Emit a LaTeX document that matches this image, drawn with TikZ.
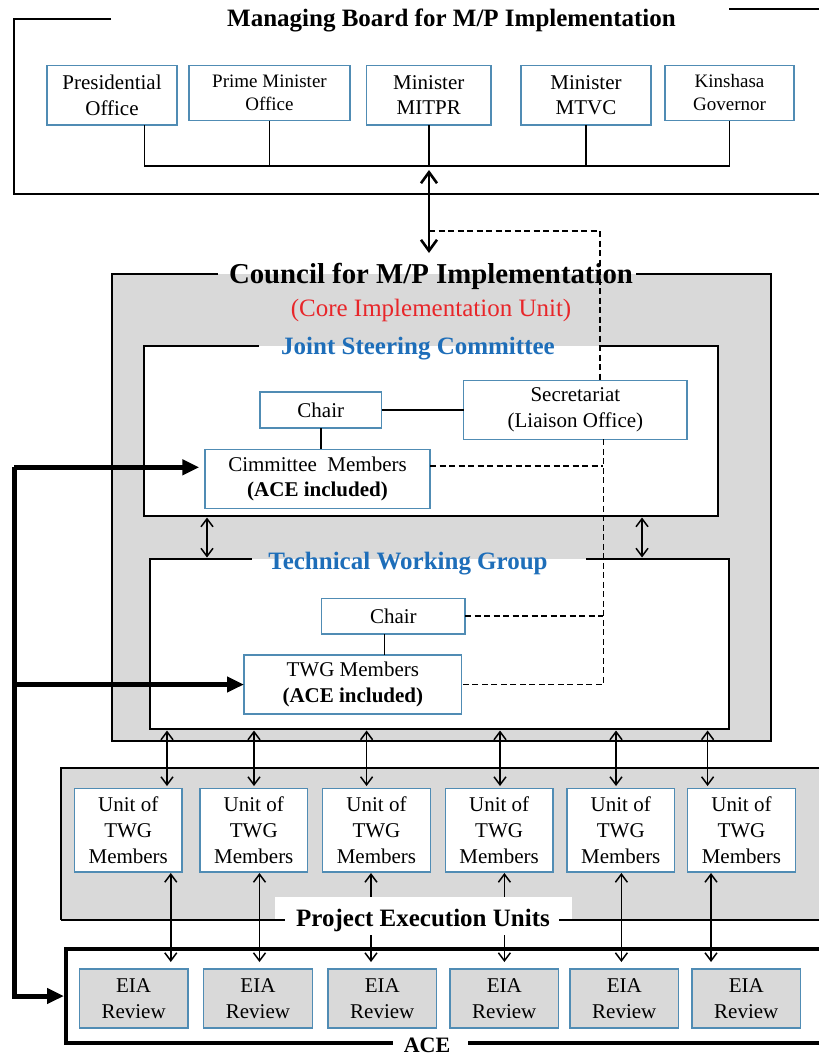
\documentclass[tikz,border=0pt]{standalone}
\usepackage{fontspec}
\setmainfont{Liberation Serif}
\usetikzlibrary{arrows.meta,calc}
\definecolor{boxblue}{RGB}{80,140,180}
\definecolor{bggray}{RGB}{217,217,217}
\definecolor{ttlblue}{RGB}{30,110,185}
\definecolor{redtxt}{RGB}{232,38,42}
\newcommand{\fsA}{\fontsize{21}{25.5}\selectfont}
\newcommand{\fsB}{\fontsize{19}{23}\selectfont}
\newcommand{\fsU}{\fontsize{21}{26.3}\selectfont}
\newcommand{\fsT}{\fontsize{25}{30}\selectfont\bfseries}
\begin{document}
\begin{tikzpicture}[x=1pt,y=-1pt,
  box/.style={draw=boxblue, line width=1.3pt, fill=white, inner sep=0pt, outer sep=0pt, align=center, anchor=north west},
  gbox/.style={box, fill=bggray},
  area/.style={draw=none, inner sep=0pt, outer sep=0pt, anchor=north west},
  fline/.style={line width=2pt, line join=miter},
  conn/.style={line width=1.5pt},
  dashline/.style={line width=1.8pt, dash pattern=on 6pt off 3.5pt},
  dblarrow/.style={line width=1.5pt, {Straight Barb[length=8pt,width=12pt]}-{Straight Barb[length=8pt,width=12pt]}},
  bigarrow/.style={line width=2.6pt, {Straight Barb[length=11pt,width=16pt]}-{Straight Barb[length=11pt,width=16pt]}},
  thickarr/.style={line width=5pt, -{Triangle[length=17pt,width=15pt]}}
]
\useasboundingbox (0,0) rectangle (819,1057);
\fill[white] (0,0) rectangle (819,1057);

% ---------------- Managing board ----------------
\draw[fline] (111,19) -- (14,19) -- (14,194) -- (819,194);
\draw[fline] (729,9) -- (819,9);
\node[anchor=base, font=\fsT] (mbt) at (451.5,27) {Managing Board for M/P Implementation};

\node[box, minimum width=130pt, minimum height=59.5pt, font=\fsA] (pres) at (47,65.5) {Presidential\\Office};
\node[box, minimum width=161pt, minimum height=55pt, font=\fsB] (pm) at (189,65.5) {Prime Minister\\Office};
\node[box, minimum width=124.4pt, minimum height=59.5pt, font=\fsA] (mitpr) at (366.6,65.5) {Minister\\MITPR};
\node[box, minimum width=130pt, minimum height=59.5pt, font=\fsA] (mtvc) at (521,65.5) {Minister\\MTVC};
\node[box, minimum width=129pt, minimum height=55pt, font=\fsB] (kin) at (665,65.5) {Kinshasa\\Governor};

\coordinate (bus) at (0,166);
\draw[conn] ([xshift=32.5pt]pres.south) -- ([xshift=32.5pt]pres.south |- bus) -| (kin.south);
\draw[conn] (pm.south) -- (pm.south |- bus);
\draw[conn] (mitpr.south) -- (mitpr.south |- bus);
\draw[conn] (mtvc.south) -- (mtvc.south |- bus);

% ---------------- Council ----------------
\node[area, fill=bggray, minimum width=659pt, minimum height=467pt] (council) at (112,274) {};
\node[area, fill=white, minimum width=574pt, minimum height=170.3pt] (jsc) at (144,345.7) {};
\node[area, fill=white, minimum width=578.5pt, minimum height=170pt] (twg) at (150,559) {};

\draw[fline] ([xshift=106pt]council.north west) -- (council.north west) -- (council.south west) -- (council.south east) -- (council.north east) -- ([xshift=-135pt]council.north east);
\draw[fline] ([xshift=115pt]jsc.north west) -- (jsc.north west) -- (jsc.south west) -- (jsc.south east) -- (jsc.north east) -- ([xshift=-117pt]jsc.north east);
\draw[fline] ([xshift=102pt]twg.north west) -- (twg.north west) -- (twg.south west) -- (twg.south east) -- (twg.north east) -- ([xshift=-142.5pt]twg.north east);

\node[anchor=base, font=\fontsize{28.8}{34}\selectfont\bfseries] (ct) at (431,283) {Council for M/P Implementation};
\node[anchor=base, font=\fontsize{25}{30}\selectfont, text=redtxt] (core) at (431,316) {(Core Implementation Unit)};
\node[anchor=base, font=\fsT, text=ttlblue] (jsct) at (418,354) {Joint Steering Committee};
\node[anchor=base, font=\fsT, text=ttlblue] (twgt) at (408,569.5) {Technical Working Group};

\node[box, minimum width=121.6pt, minimum height=36pt, font=\fsA] (jchair) at (260,392) {Chair};
\node[box, minimum width=223.2pt, minimum height=58.6pt, font=\fsA] (sec) at (463.8,380.7) {Secretariat\\(Liaison Office)};
\node[box, minimum width=225pt, minimum height=59pt, font=\fsA] (cm) at (205,449.3) {Cimmittee\ \ Members\hspace{10pt}\\\textbf{(ACE included)}};
\node[box, minimum width=143.3pt, minimum height=35.3pt, font=\fsA] (tchair) at (321.7,598.7) {Chair};
\node[box, minimum width=217.7pt, minimum height=59pt, font=\fsA] (twgm) at (244,655) {TWG Members\\\textbf{(ACE included)}};

\draw[conn] (jchair.south) -- (jchair.south |- cm.north);
\draw[conn] (jchair.east) -- (jchair.east -| sec.west);
\draw[conn] ([xshift=-9pt]tchair.south) -- ([xshift=-9pt]tchair.south |- twgm.north);

\coordinate (c1) at (207,0);
\coordinate (c2) at (642,0);
\draw[dblarrow, shorten <=1.5pt, shorten >=1.5pt] (jsc.south -| c1) -- (twg.north -| c1);
\draw[dblarrow, shorten <=1.5pt, shorten >=1.5pt] (jsc.south -| c2) -- (twg.north -| c2);

% ---------------- PEU and ACE ----------------
\node[area, fill=bggray, minimum width=758pt, minimum height=152pt] (peu) at (61,768) {};
\node[area, fill=white, minimum width=753pt, minimum height=94pt] (ace) at (66,949) {};

\node[box, minimum width=107.5pt, minimum height=83.5pt, font=\fsU] (u1) at (74.5,788.5) {Unit of\\TWG\\Members};
\node[box, minimum width=107.5pt, minimum height=83.5pt, font=\fsU] (u2) at (200,788.5) {Unit of\\TWG\\Members};
\node[box, minimum width=107.5pt, minimum height=83.5pt, font=\fsU] (u3) at (322.7,788.5) {Unit of\\TWG\\Members};
\node[box, minimum width=107.5pt, minimum height=83.5pt, font=\fsU] (u4) at (445.4,788.5) {Unit of\\TWG\\Members};
\node[box, minimum width=107.5pt, minimum height=83.5pt, font=\fsU] (u5) at (567,788.5) {Unit of\\TWG\\Members};
\node[box, minimum width=107.5pt, minimum height=83.5pt, font=\fsU] (u6) at (687.7,788.5) {Unit of\\TWG\\Members};

\node[gbox, minimum width=108.5pt, minimum height=59pt, font=\fsU] (e1) at (79.4,969) {EIA\\Review};
\node[gbox, minimum width=108.5pt, minimum height=59pt, font=\fsU] (e2) at (203.7,969) {EIA\\Review};
\node[gbox, minimum width=108.5pt, minimum height=59pt, font=\fsU] (e3) at (328,969) {EIA\\Review};
\node[gbox, minimum width=108.5pt, minimum height=59pt, font=\fsU] (e4) at (450,969) {EIA\\Review};
\node[gbox, minimum width=108.5pt, minimum height=59pt, font=\fsU] (e5) at (570,969) {EIA\\Review};
\node[gbox, minimum width=108.5pt, minimum height=59pt, font=\fsU] (e6) at (692,969) {EIA\\Review};

\foreach \i/\ax in {1/167,2/254,3/366.6,4/500,5/616,6/707.6}{
  \coordinate (a\i) at (\ax,0);
  \draw[dblarrow, shorten <=1.5pt, shorten >=2.5pt] (twg.south -| a\i) -- (u\i.north -| a\i);
}
\foreach \i/\bx in {1/170.8,2/259.5,3/371,4/504.4,5/621.4,6/711}{
  \coordinate (b\i) at (\bx,0);
  \draw[dblarrow, shorten <=1pt, shorten >=7pt] (u\i.south -| b\i) -- (e\i.north -| b\i);
}

\node[area, fill=white, minimum width=297pt, minimum height=38pt] (peul) at (275,897) {};
\draw[fline] (peu.south west) -- ([xshift=223.6pt]peu.south west);
\draw[fline] (peu.south east) -- ([xshift=-260.3pt]peu.south east);
\draw[fline] (peu.south west) -- (peu.north west) -- (peu.north east);
\node[anchor=base, font=\fsT] (peut) at (423,926.7) {Project Execution Units};

\draw[line width=4.5pt, line join=miter] (ace.north east) -- (ace.north west) -- (ace.south west) -- ([xshift=326.7pt]ace.south west);
\draw[line width=4.5pt] (ace.south east) -- ([xshift=-350.6pt]ace.south east);
\node[anchor=base, inner sep=0pt, font=\fontsize{22}{26}\selectfont\bfseries] (acet) at (427,1052) {ACE};

% ---------------- dashed links ----------------
\coordinate (dj) at (429,231);
\coordinate (dx) at (603.4,0);
\draw[dashline] (dj) -| ([xshift=24.6pt]sec.north);
\draw[dashline] ([xshift=28pt]sec.south) |- (twgm.east);
\draw[dashline] ([yshift=12.8pt]cm.east) -- ([yshift=12.8pt]cm.east -| dx);
\draw[dashline] (tchair.east) -- (tchair.east -| dx);

% ---------------- main arrows ----------------
\coordinate (mbA) at (429,170);
\coordinate (cT) at (429,253);
\draw[bigarrow] (mbA) -- (cT);

\coordinate (lt) at (14,467.3);
\draw[thickarr] (lt) -- ([xshift=-5.7pt,yshift=11.5pt]cm.west);
\draw[thickarr] (lt) |- (twgm.west);
\draw[thickarr] (lt) |- ([xshift=-2pt]ace.west);
\end{tikzpicture}
\end{document}
